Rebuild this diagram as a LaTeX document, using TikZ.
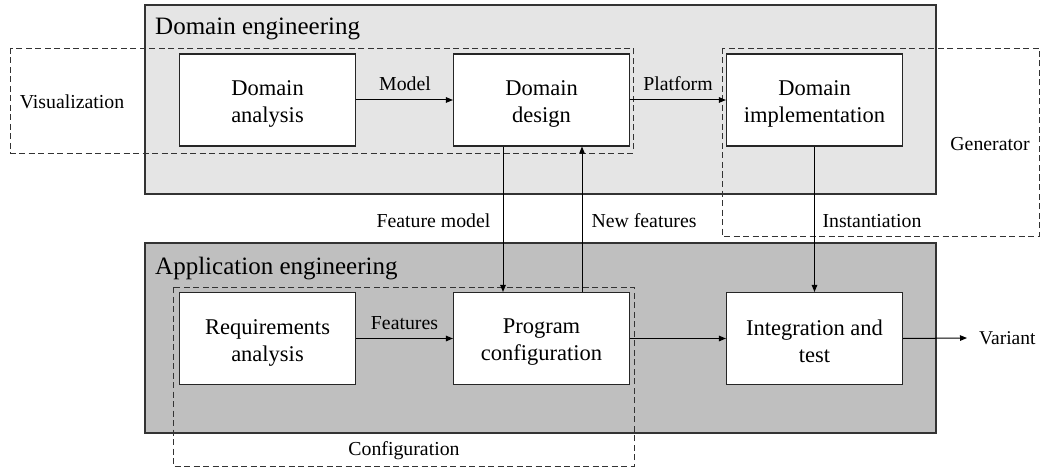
\documentclass[tikz,border=0pt]{standalone}
\usepackage{fontspec}
\setmainfont{Liberation Serif}
\usetikzlibrary{arrows.meta,calc}
\begin{document}
\begin{tikzpicture}[x=1pt,y=-1pt,
  region/.style={draw=black!80,line width=1.2pt},
  stepbox/.style={draw=black!85,fill=white,line width=1.1pt,minimum width=176pt,minimum height=92pt,inner sep=0pt},
  boxtxt/.style={align=center,inner sep=0pt,font=\fontsize{22.5}{27}\selectfont},
  grp/.style={draw=black!80,line width=0.9pt,dash pattern=on 6pt off 3.5pt},
  lbl/.style={inner sep=0pt,font=\fontsize{19.8}{23}\selectfont,anchor=base},
  ttl/.style={inner sep=0pt,font=\fontsize{25}{28}\selectfont,anchor=base west},
  arr/.style={line width=1pt,-{Triangle[length=7pt,width=5.5pt]}}]
\useasboundingbox (0,0) rectangle (1047,468);
% regions
\draw[region,fill=black!10] (145,5) rectangle (936,194);
\draw[region,fill=black!25] (145,243) rectangle (936,433);
\node[ttl] (tde) at (155,35) {Domain engineering};
\node[ttl] (tae) at (155,274) {Application engineering};
% dashed groups
\draw[grp] (10,48) rectangle (633,153);
\draw[grp] (722,48) rectangle (1039,236);
\draw[grp] (173,287) rectangle (634,466);
% boxes
\node[stepbox] (DA) at (267.5,100) {};
\node[stepbox] (DD) at (541.5,100) {};
\node[stepbox] (DI) at (814.5,100) {};
\node[stepbox] (RA) at (267.5,338.5) {};
\node[stepbox] (PC) at (541.5,338.5) {};
\node[stepbox] (IT) at (814.5,338.5) {};
\node[boxtxt] (tDA) at ($(DA.center)+(0,4)$) {Domain\\analysis};
\node[boxtxt] (tDD) at ($(DD.center)+(0,4)$) {Domain\\design};
\node[boxtxt] (tDI) at ($(DI.center)+(0,4)$) {Domain\\implementation};
\node[boxtxt] (tRA) at ($(RA.center)+(0,4)$) {Requirements\\analysis};
\node[boxtxt] (tPC) at ($(PC.center)+(0,4)$) {Program\\configuration};
\node[boxtxt] (tIT) at ($(IT.center)+(0,3)$) {Integration and\\test};
% labels
\node[lbl] (lvis) at (72,109) {Visualization};
\node[lbl] (lmod) at (405,91) {Model};
\node[lbl] (lplat) at (678,91) {Platform};
\node[lbl] (lgen) at (990,150) {Generator};
\node[lbl] (lfm) at (433.5,227) {Feature model};
\node[lbl] (lnf) at (644,227) {New features};
\node[lbl] (linst) at (872,227) {Instantiation};
\node[lbl] (lfeat) at (404.5,329) {Features};
\node[lbl] (lconf) at (404,455) {Configuration};
\node[inner sep=0pt,font=\fontsize{19.5}{23}\selectfont,anchor=west] (V) at (979,338) {Variant};
\coordinate (vend) at (967,338);
% arrows
\draw[arr] (DA.east) -- (DD.west);
\draw[arr] (DD.east) -- (DI.west);
\draw[arr] ($(DD.south)+(-38.5,0)$) -- ($(PC.north)+(-38.5,0)$);
\draw[arr] ($(PC.north)+(40.5,0)$) -- ($(DD.south)+(40.5,0)$);
\draw[arr] (DI.south) -- (IT.north);
\draw[arr] (RA.east) -- (PC.west);
\draw[arr] (PC.east) -- (IT.west);
\draw[arr] (IT.east) -- (vend);
\end{tikzpicture}
\end{document}
